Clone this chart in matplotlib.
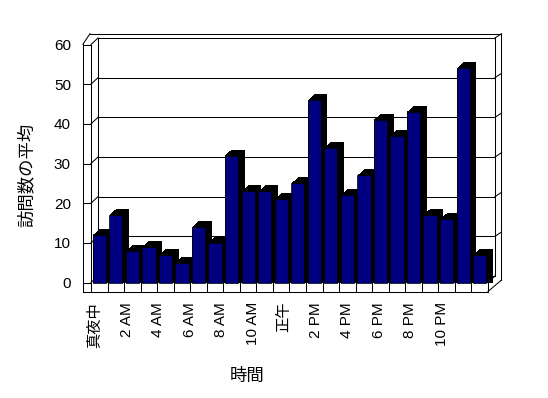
import numpy as np
import matplotlib
matplotlib.use('Agg')
import matplotlib.pyplot as plt

plt.rcParams['font.family'] = ['Liberation Sans', 'Noto Sans CJK JP']

# hourly data (24 categories, every second one labelled)
hours = ['真夜中', '1 AM', '2 AM', '3 AM', '4 AM', '5 AM', '6 AM', '7 AM',
         '8 AM', '9 AM', '10 AM', '11 AM', '正午', '1 PM', '2 PM', '3 PM',
         '4 PM', '5 PM', '6 PM', '7 PM', '8 PM', '9 PM', '10 PM', '11 PM']
visits = [12, 17, 8, 9, 7, 5, 14, 10, 32, 23, 23, 21,
          25, 46, 34, 22, 27, 41, 37, 43, 17, 16, 54, 7]
tick_labels = hours[::2]
y_ticks = [0, 10, 20, 30, 40, 50, 60]

W, H, DPI = 548, 398, 100
fig = plt.figure(figsize=(W / DPI, H / DPI), dpi=DPI)
fig.patch.set_facecolor('white')

# front plane of the fake 3D box, in pixels
left, right, top, bottom = 91, 488, 44.5, 282.5
ax = fig.add_axes([left / W, (H - bottom) / H, (right - left) / W, (bottom - top) / H])
x0, x1, ymax = -0.5, len(hours) - 0.5, 60
ax.set_xlim(x0, x1)
ax.set_ylim(0, ymax)
for s in ax.spines.values():
    s.set_visible(False)
ax.patch.set_visible(False)

# pixel -> data units
PX = (x1 - x0) / (right - left)
PY = ymax / (bottom - top)

lw = 0.75


def line(xs, ys, z=3):
    ax.plot(xs, ys, color='black', lw=lw, clip_on=False, zorder=z,
            solid_capstyle='projecting')


bx, by = 7 * PX, 6.5 * PY        # back wall offset
ox, oy = 13.5 * PX, 10.8 * PY    # outer right/top edge
sx = 8 * PX                      # left wall strip
fy = 9 * PY                      # floor strip

# back wall gridlines, left wall diagonals, right edge ticks
for v in y_ticks:
    line([x0 + bx, x1 + bx], [v + by, v + by], z=1)
    line([x0 - sx, x0], [v, v])
    line([x0, x0 + bx], [v, v + by], z=1)
    if v > 0:
        line([x1 + bx, x1 + ox], [v + by, v + oy], z=1)

# inner edges
line([x0, x0], [0, ymax])
line([x0 + bx, x0 + bx], [by, ymax + by], z=1)
line([x1 + bx, x1 + bx], [by, ymax + by], z=1)
line([x1, x1 + bx], [0, by], z=1)

# outer outline
line([x0 - sx, x0 - sx], [-fy, ymax + 0.5 * PY])
line([x0 - sx, x0 - PX], [ymax + 0.5 * PY, ymax + oy])
line([x0 - PX, x1 + ox], [ymax + oy, ymax + oy])
line([x1 + ox, x1 + ox], [ymax + oy, 2.5 * PY])
line([x1 + ox, x1], [2.5 * PY, -fy])
line([x0 - sx, x1], [-fy, -fy])

# floor front strip with category dividers
for b in np.arange(len(hours) + 1) - 0.5:
    line([b, b], [0, -fy])

# bars: black extrusion then navy front face
x = np.arange(len(hours))
vals = np.array(visits)
for k in np.arange(0.5, 7.0, 0.5):
    ax.bar(x + k * PX, vals + k * 0.92 * PY, width=0.8, color='black',
           lw=0, zorder=2, clip_on=False)
ax.bar(x, vals, width=0.8, color='#000080', edgecolor='black', lw=0.5,
       zorder=2.5, clip_on=False)

# ticks
label_pos = np.arange(len(tick_labels)) * 1.905 - 0.25
ax.set_xticks(label_pos, tick_labels, rotation=90, fontsize=11)
ax.set_yticks(y_ticks, [str(v) for v in y_ticks], fontsize=11)
ax.tick_params(axis='x', length=0, pad=14)
ax.tick_params(axis='y', length=0, pad=14.5)

fig.text(26 / W, 1 - 175 / H, '訪問数の平均', rotation=90, ha='center',
         va='center', fontsize=12.5)
fig.text(246.7 / W, 1 - 376 / H, '時間', ha='center', va='center', fontsize=12.5)

fig.savefig('out.png', dpi=DPI, facecolor='white')
